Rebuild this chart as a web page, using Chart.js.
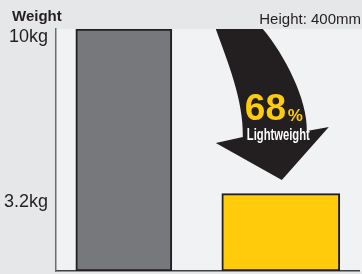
<!DOCTYPE html>
<html>
<head>
<meta charset="utf-8">
<script src="https://cdn.jsdelivr.net/npm/chart.js@4.4.0/dist/chart.umd.min.js"></script>
<style>
html, body { margin: 0; padding: 0; background: #e6e7e8; }
</style>
</head>
<body>
<canvas id="weightChart" width="362" height="274"></canvas>
<script>
var categories = ['Conventional', 'Lightweight'];
var weights = [10, 3.2];
var tickValues = [3.2, 10];
var tickLabels = ['3.2kg', '10kg'];
var savingPct = 68;

var barColors = ['#77787b', '#ffcb0a'];
var barWidths = [96, 118];
var FONT = '"Liberation Sans", Arial, sans-serif';

var datasets = categories.map(function (name, i) {
    return {
        label: name,
        data: [{ x: i, y: weights[i] }],
        backgroundColor: barColors[i],
        borderColor: '#231f20',
        borderWidth: 2,
        borderSkipped: false,
        barThickness: barWidths[i],
        skipNull: true
    };
});

// backgrounds, header texts and the "lightweight" arrow
var decor = {
    id: 'decor',
    beforeDraw: function (chart) {
        var c = chart.ctx, a = chart.chartArea;
        c.save();
        c.fillStyle = '#e6e7e8';
        c.fillRect(0, 0, chart.width, chart.height);
        c.fillStyle = '#f1f2f4';
        c.fillRect(a.left, a.top, chart.width - a.left, a.bottom - a.top);
        c.fillStyle = '#231f20';
        c.textBaseline = 'alphabetic';
        c.textAlign = 'left';
        c.font = 'bold 15px ' + FONT;
        c.fillText('Weight', 12, 21);
        c.textAlign = 'right';
        c.font = '15px ' + FONT;
        c.fillText('Height: 400mm', 361, 24);
        c.restore();
    },
    afterDatasetsDraw: function (chart) {
        var c = chart.ctx, a = chart.chartArea;
        var cx = chart.scales.x.getPixelForValue(1);
        var t = a.top;
        function P(dx, dy) { return [cx + dx, t + dy]; }
        c.save();
        c.fillStyle = '#231f20';
        c.beginPath();
        var p = P(-65, 0); c.moveTo(p[0], p[1]);
        var c1 = P(-54, 31), c2 = P(-37, 71), e = P(-38, 108);
        c.bezierCurveTo(c1[0], c1[1], c2[0], c2[1], e[0], e[1]);
        p = P(-65, 114); c.lineTo(p[0], p[1]);
        p = P(1, 151); c.lineTo(p[0], p[1]);
        p = P(48, 98); c.lineTo(p[0], p[1]);
        p = P(26, 102); c.lineTo(p[0], p[1]);
        c1 = P(27, 71); c2 = P(4, 26); e = P(-18, 0);
        c.bezierCurveTo(c1[0], c1[1], c2[0], c2[1], e[0], e[1]);
        c.closePath();
        c.fill();

        c.textBaseline = 'alphabetic';
        c.textAlign = 'left';
        c.fillStyle = '#ffcb0a';
        c.font = 'bold 37px ' + FONT;
        c.fillText(String(savingPct), cx - 36, t + 91);
        c.font = 'bold 17px ' + FONT;
        c.fillText('%', cx + 7, t + 92);
        c.fillStyle = '#ffffff';
        c.font = 'bold 16px ' + FONT;
        c.fillText('Lightweight', cx - 34, t + 111, 63);
        c.restore();
    }
};

var ctx = document.getElementById('weightChart').getContext('2d');

var weightChart = new Chart(ctx, {
    type: 'bar',
    data: { datasets: datasets },
    options: {
        responsive: false,
        animation: false,
        layout: { padding: { top: 29, right: 3, bottom: 3, left: 0 } },
        plugins: {
            legend: { display: false },
            tooltip: { enabled: false }
        },
        scales: {
            x: {
                type: 'linear',
                stacked: true,
                offset: false,
                bounds: 'data',
                min: -0.432,
                max: 1.498,
                ticks: { display: false },
                grid: { display: false, drawTicks: false },
                border: { color: '#414042', width: 1.5 },
                afterFit: function (s) {
                    s.height = 0;
                    s.paddingLeft = 0;
                    s.paddingRight = 0;
                }
            },
            y: {
                min: 0,
                max: 10,
                afterBuildTicks: function (s) {
                    s.ticks = tickValues.map(function (v) { return { value: v }; });
                },
                afterFit: function (s) {
                    s.width = 56;
                    s.paddingTop = 0;
                    s.paddingBottom = 0;
                },
                ticks: {
                    padding: 8,
                    labelOffset: 8,
                    color: '#231f20',
                    font: { family: FONT, size: 18 },
                    callback: function (v) { return tickLabels[tickValues.indexOf(v)]; }
                },
                grid: { display: false, drawTicks: false },
                border: { color: '#6d6e71', width: 1.5 }
            }
        }
    },
    plugins: [decor]
});
</script>
</body>
</html>
